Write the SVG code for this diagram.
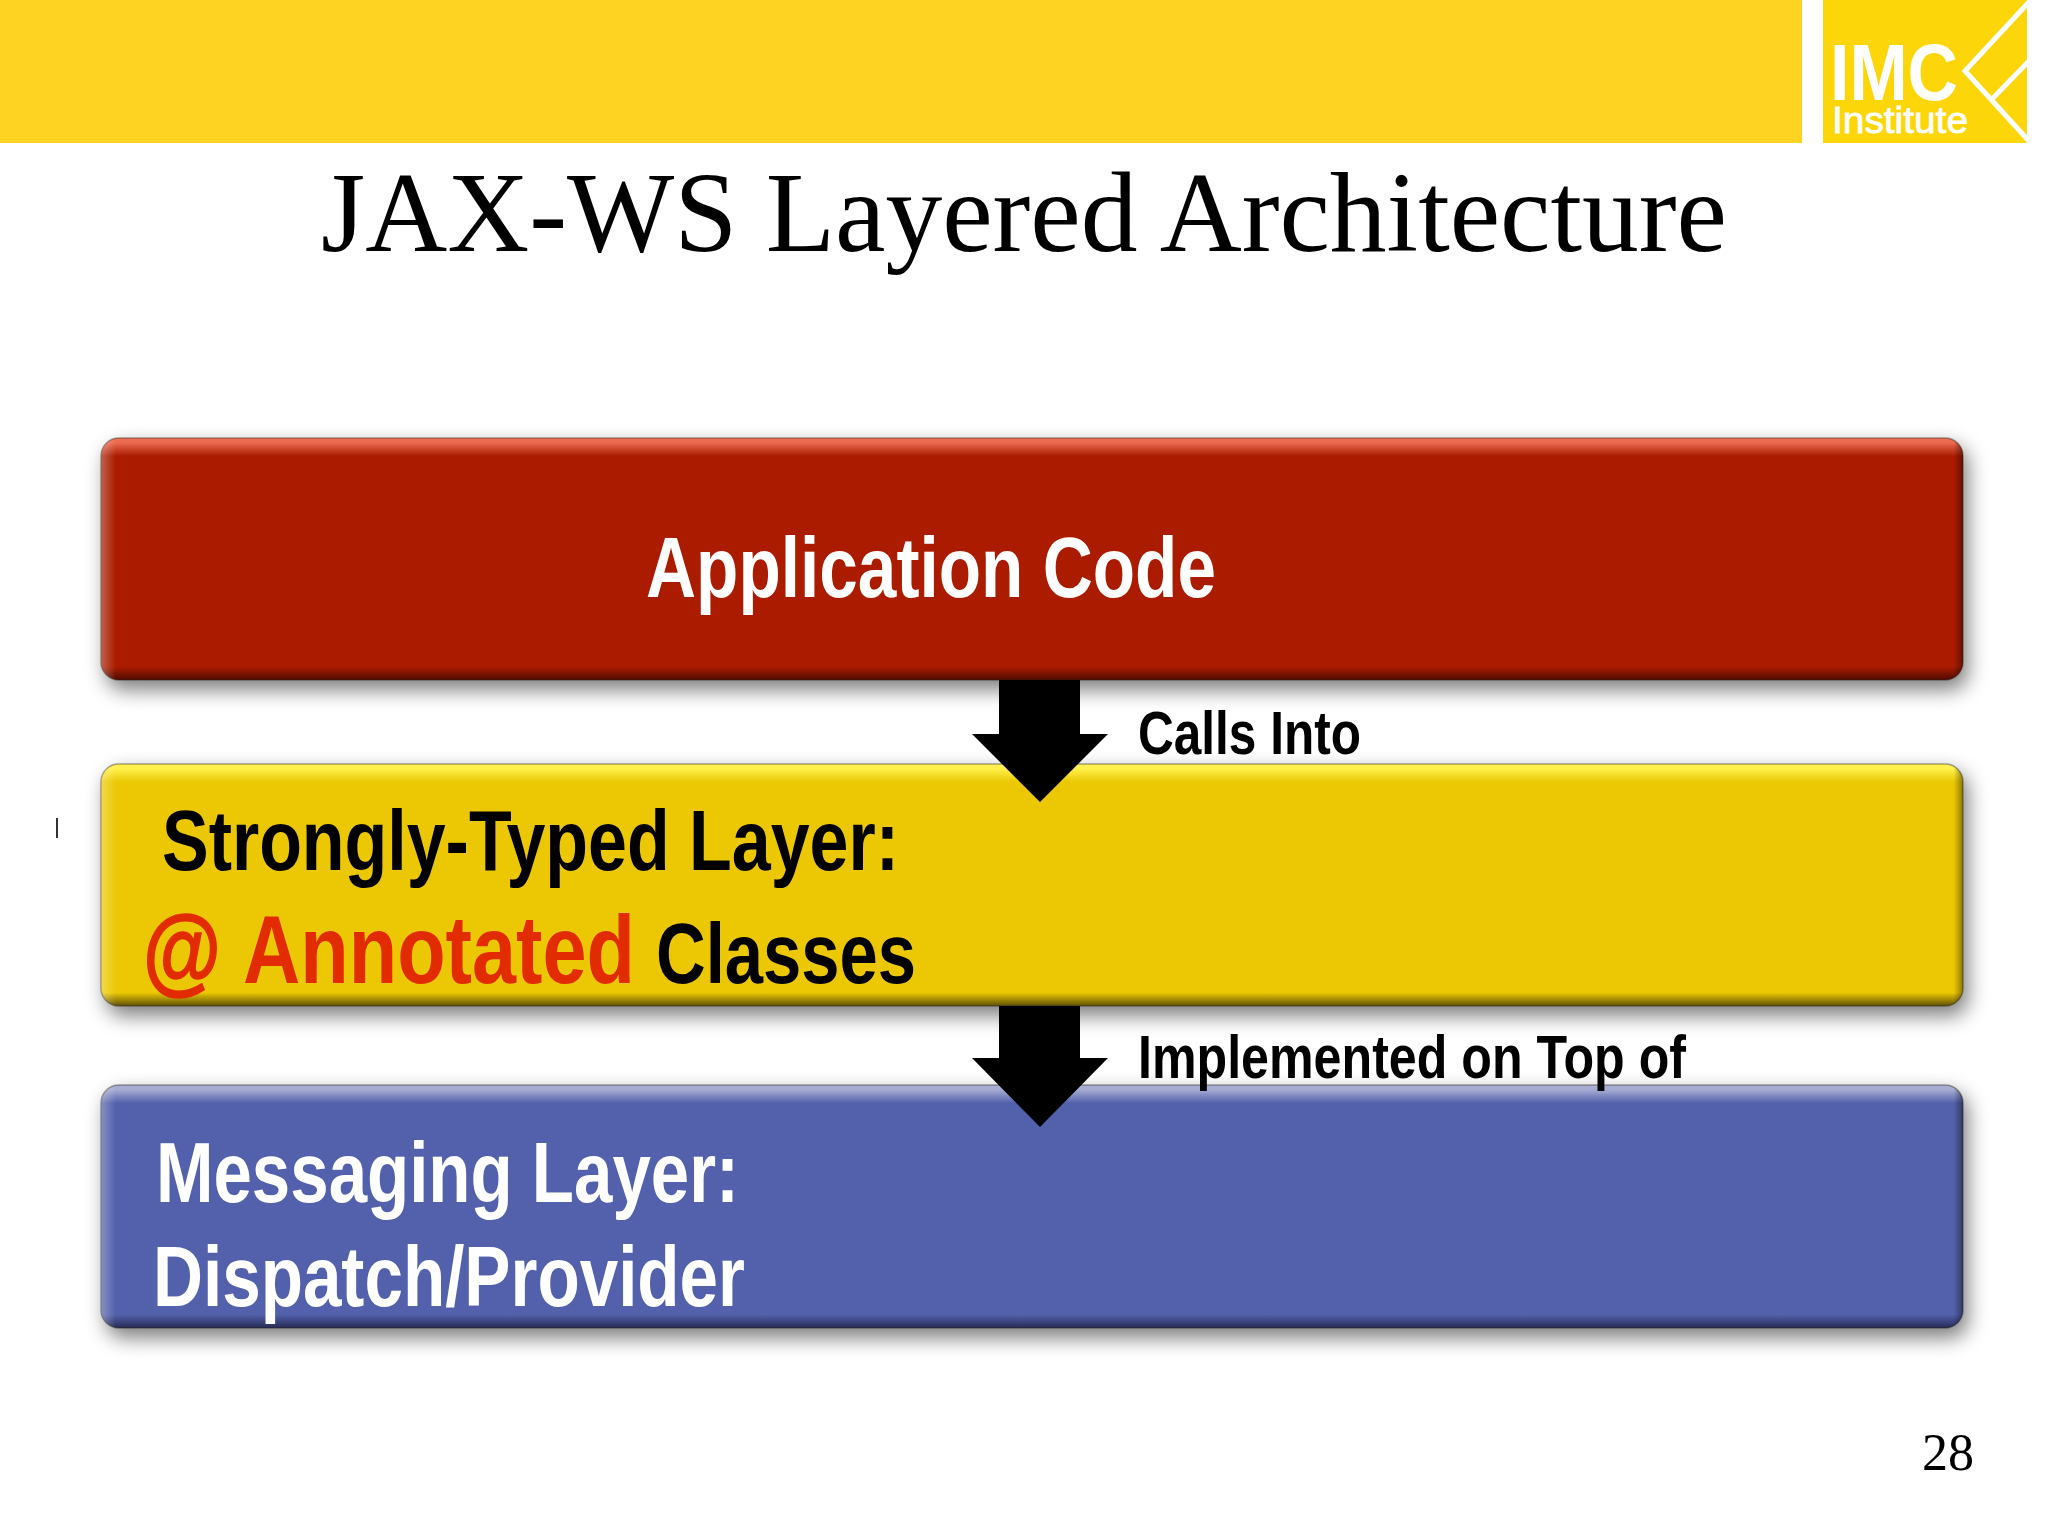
<svg xmlns="http://www.w3.org/2000/svg" width="2048" height="1536" viewBox="0 0 2048 1536">
<style>
.h{font-family:"Liberation Sans",Arial,sans-serif;font-weight:700}
.s{font-family:"Liberation Serif","Times New Roman",serif}
.w{fill:#fff}.k{fill:#000}
.b1{font-size:86px}.b2{font-size:62px}
.shadow{fill:#000;opacity:.5}
.box{stroke:#2a2015;stroke-opacity:.4;stroke-width:1.5}
</style>
<defs>
<filter id="sh" x="-5%" y="-20%" width="110%" height="140%"><feGaussianBlur stdDeviation="10"/></filter>
<linearGradient id="gr" x1="0" y1="0" x2="0" y2="1"><stop offset="0" stop-color="#ef6f55"/><stop offset=".02" stop-color="#ea6a50"/><stop offset=".075" stop-color="#aa1b00"/><stop offset=".945" stop-color="#aa1b00"/><stop offset="1" stop-color="#4e0c00"/></linearGradient>
<linearGradient id="gy" x1="0" y1="0" x2="0" y2="1"><stop offset="0" stop-color="#fff255"/><stop offset=".02" stop-color="#fff04a"/><stop offset=".075" stop-color="#ebc803"/><stop offset=".945" stop-color="#ebc803"/><stop offset="1" stop-color="#5e5008"/></linearGradient>
<linearGradient id="gb" x1="0" y1="0" x2="0" y2="1"><stop offset="0" stop-color="#a9aed4"/><stop offset=".02" stop-color="#a5abd2"/><stop offset=".075" stop-color="#5360ab"/><stop offset=".945" stop-color="#5360ab"/><stop offset="1" stop-color="#262b55"/></linearGradient>
<linearGradient id="ed" x1="0" y1="0" x2="1" y2="0"><stop offset="0" stop-color="#fff" stop-opacity=".3"/><stop offset=".008" stop-color="#fff" stop-opacity="0"/><stop offset=".995" stop-color="#000" stop-opacity="0"/><stop offset="1" stop-color="#000" stop-opacity=".4"/></linearGradient>
</defs>
<rect width="2048" height="1536" fill="#fff"/>
<g id="header">
<rect width="1802" height="143" fill="#ffd322"/>
</g>
<g id="logo">
<path d="M1823 0H2027V143H1823Z" fill="#fdd60a"/>
<path d="M2029 2L1965 71L2029 141M1993 98L2029 61" fill="none" stroke="#fff" stroke-width="5"/>
<text class="h w" x="1830" y="100" font-size="80" textLength="128" lengthAdjust="spacingAndGlyphs">IMC</text>
<text x="1832" y="133" font-family="Liberation Sans,Arial,sans-serif" font-size="37" fill="#fff" stroke="#fff" stroke-width=".8" textLength="136" lengthAdjust="spacingAndGlyphs">Institute</text>
</g>
<text id="title" class="s k" x="1024" y="251" font-size="114" text-anchor="middle" textLength="1406" lengthAdjust="spacingAndGlyphs">JAX-WS Layered Architecture</text>
<g id="application-code">
<rect class="shadow" x="106" y="446" width="1862" height="244" rx="18" filter="url(#sh)"/>
<rect class="box" x="101" y="438" width="1862" height="242" rx="18" fill="url(#gr)"/>
<rect x="101" y="438" width="1862" height="242" rx="18" fill="url(#ed)"/>
<text class="h w b1" x="646" y="597" textLength="570" lengthAdjust="spacingAndGlyphs">Application Code</text>
</g>
<g id="strongly-typed-layer">
<rect class="shadow" x="106" y="772" width="1862" height="244" rx="18" filter="url(#sh)"/>
<rect class="box" x="101" y="764" width="1862" height="242" rx="18" fill="url(#gy)"/>
<rect x="101" y="764" width="1862" height="242" rx="18" fill="url(#ed)"/>
<text class="h k b1" x="162" y="870" textLength="737" lengthAdjust="spacingAndGlyphs">Strongly-Typed Layer:</text>
<text class="h" x="143" y="983" font-size="97" fill="#e22c00" stroke="#e22c00" stroke-width="1.5" textLength="78" lengthAdjust="spacingAndGlyphs">@</text>
<text class="h" x="243" y="983" font-size="97" fill="#e22c00" textLength="392" lengthAdjust="spacingAndGlyphs">Annotated</text>
<text class="h k b1" x="656" y="983" textLength="260" lengthAdjust="spacingAndGlyphs">Classes</text>
</g>
<g id="messaging-layer">
<rect class="shadow" x="106" y="1093" width="1862" height="245" rx="18" filter="url(#sh)"/>
<rect class="box" x="101" y="1085" width="1862" height="243" rx="18" fill="url(#gb)"/>
<rect x="101" y="1085" width="1862" height="243" rx="18" fill="url(#ed)"/>
<text class="h w b1" x="156" y="1202" textLength="583" lengthAdjust="spacingAndGlyphs">Messaging Layer:</text>
<text class="h w b1" x="153" y="1306" textLength="592" lengthAdjust="spacingAndGlyphs">Dispatch/Provider</text>
</g>
<g id="connectors">
<path class="k" d="M999 680H1080V734H1108L1040 802L972 734H999Z"/>
<path class="k" d="M999 1006H1080V1058H1108L1040 1127L972 1058H999Z"/>
</g>
<g id="connector-labels">
<text class="h k b2" x="1138" y="754" textLength="223" lengthAdjust="spacingAndGlyphs">Calls Into</text>
<text class="h k b2" x="1138" y="1078" textLength="548" lengthAdjust="spacingAndGlyphs">Implemented on Top of</text>
</g>
<rect id="tick" x="56" y="818" width="2" height="20" fill="#333"/>
<text id="page-number" class="s k" x="1922" y="1470" font-size="52">28</text>
</svg>
